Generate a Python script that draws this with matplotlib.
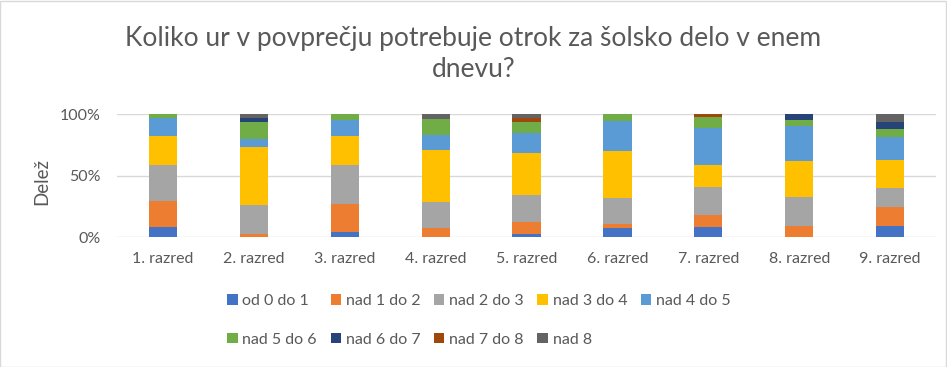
import numpy as np
import matplotlib.pyplot as plt
from matplotlib.patches import Rectangle

# Categories and series (shares in %)
razredi = ['1. razred', '2. razred', '3. razred', '4. razred', '5. razred',
           '6. razred', '7. razred', '8. razred', '9. razred']
serije = ['od 0 do 1', 'nad 1 do 2', 'nad 2 do 3', 'nad 3 do 4', 'nad 4 do 5',
          'nad 5 do 6', 'nad 6 do 7', 'nad 7 do 8', 'nad 8']

od_0_do_1 = [8.1, 0, 4.1, 0, 2.4, 7.3, 8.1, 0, 8.9]
nad_1_do_2 = [21.4, 2.4, 22.8, 7.3, 9.8, 3.3, 9.8, 8.9, 15.4]
nad_2_do_3 = [29.0, 23.6, 31.7, 21.1, 22.0, 21.1, 22.8, 23.6, 15.4]
nad_3_do_4 = [23.6, 47.2, 23.6, 42.3, 34.1, 38.5, 17.9, 29.3, 22.8]
nad_4_do_5 = [14.4, 6.8, 13.0, 12.5, 16.5, 24.4, 30.1, 28.5, 18.7]
nad_5_do_6 = [3.5, 13.6, 4.9, 12.7, 8.7, 5.4, 8.9, 4.9, 6.5]
nad_6_do_7 = [0, 3.5, 0, 0, 0, 0, 0, 4.9, 5.7]
nad_7_do_8 = [0, 0, 0, 0, 3.3, 0, 2.4, 0, 0]
nad_8 = [0, 3.0, 0, 4.1, 3.3, 0, 0, 0, 6.5]

vrednosti = [od_0_do_1, nad_1_do_2, nad_2_do_3, nad_3_do_4, nad_4_do_5,
             nad_5_do_6, nad_6_do_7, nad_7_do_8, nad_8]
barve = ['#4472C4', '#ED7D31', '#A5A5A5', '#FFC000', '#5B9BD5',
         '#70AD47', '#264478', '#9E480E', '#636363']

plt.rcParams['font.family'] = ['Lato', 'DejaVu Sans']

fig = plt.figure(figsize=(9.47, 3.67), dpi=100)
ax = fig.add_axes([0.124, 0.354, 0.864, 0.335])

x = np.arange(len(razredi))
data = np.array(vrednosti, dtype=float)
data = data / data.sum(axis=0) * 100
spodaj = np.zeros(len(razredi))
handles = []
for ime, vr, c in zip(serije, data, barve):
    h = ax.bar(x, vr, width=0.31, bottom=spodaj, color=c, label=ime, zorder=3)
    handles.append(h)
    spodaj += vr

ax.set_xlim(-0.5, len(razredi) - 0.5)
ax.set_ylim(0, 100)
ax.set_yticks([0, 50, 100])
ax.set_yticklabels(['0%', '50%', '100%'])
ax.set_xticks(x)
ax.set_xticklabels(razredi)
ax.tick_params(axis='both', length=0, labelsize=11.5, colors='#595959')
ax.tick_params(axis='y', pad=12)
ax.tick_params(axis='x', pad=11)
ax.grid(axis='y', color='#D9D9D9', linewidth=1, zorder=0)
for s in ax.spines.values():
    s.set_visible(False)

ax.set_ylabel('Delež', fontsize=13.5, color='#595959')
ax.yaxis.set_label_coords(-0.082, 0.45)

fig.text(0.5, 0.853, 'Koliko ur v povprečju potrebuje otrok za šolsko delo v enem\ndnevu?',
         ha='center', va='center', fontsize=19, color='#595959', linespacing=1.3)

# legend, row-major order in a 5-column grid
red = [0, 5, 1, 6, 2, 7, 3, 8, 4]
leg = fig.legend([handles[i] for i in red], [serije[i] for i in red],
                 ncol=5, loc='upper left', bbox_to_anchor=(0.240, 0.199),
                 frameon=False, fontsize=11.5, handlelength=0.65, handleheight=0.65,
                 handletextpad=0.3, columnspacing=0.85, labelspacing=1.55,
                 borderaxespad=0, borderpad=0)
for t in leg.get_texts():
    t.set_color('#595959')

fig.patches.append(Rectangle((0.0005, 0.001), 0.998, 0.997, transform=fig.transFigure,
                             fill=False, edgecolor='#D9D9D9', linewidth=1))

fig.savefig('out.png', dpi=100)
